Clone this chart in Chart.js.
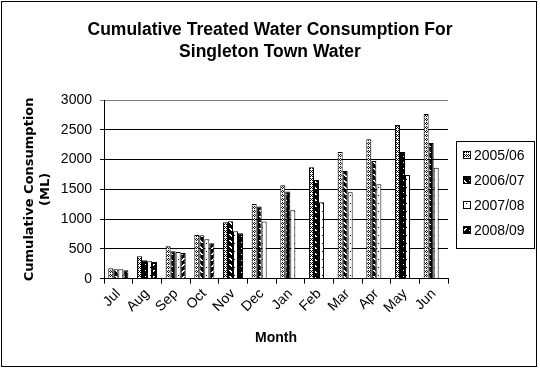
<!DOCTYPE html>
<html>
<head>
<meta charset="utf-8">
<script src="https://cdn.jsdelivr.net/npm/chart.js@4/dist/chart.umd.min.js"></script>
<style>
  body { margin: 0; background: #fff; }
</style>
</head>
<body>
<canvas id="c" width="540" height="369"></canvas>
<script>
const months = ["Jul", "Aug", "Sep", "Oct", "Nov", "Dec", "Jan", "Feb", "Mar", "Apr", "May", "Jun"];
const seriesLabels = ["2005/06", "2006/07", "2007/08", "2008/09"];
const y2005 = [175, 376, 544, 733, 946, 1253, 1567, 1869, 2126, 2339, 2579, 2763];
const y2006 = [158, 309, 460, 730, 963, 1214, 1466, 1656, 1807, 1975, 2126, 2277];
const y2007 = [158, 292, 448, 661, 795, 960, 1148, 1282, 1450, 1584, 1740, 1862];
const y2008 = [141, 280, 431, 594, 762, null, null, null, null, null, null, null];
const titleLines = ["Cumulative Treated Water Consumption For", "Singleton Town Water"];

const FONT = "Arial, 'Liberation Sans', sans-serif";
const WIDE = "'DejaVu Sans', Verdana, sans-serif";

// small bitmap patterns like the excel fills
function makePattern(rows) {
  const c = document.createElement("canvas");
  c.width = rows[0].length;
  c.height = rows.length;
  const g = c.getContext("2d");
  rows.forEach((r, y) => {
    for (let x = 0; x < r.length; x++) {
      g.fillStyle = r[x] === "#" ? "#000" : "#fff";
      g.fillRect(x, y, 1, 1);
    }
  });
  return g.createPattern(c, "repeat");
}

const fills = [
  makePattern(["#.#.", "....", "#.#.", ".#.#"]),
  makePattern(["#..###", "##..##", "###..#", "######", "######", "######"]),
  makePattern(["....", "....", "....", "..#.", "....", "....", "....", "...."]),
  makePattern(["###..#", "##..##", "#..###", "######", "######", "######"])
];

const chartFrame = {
  id: "chartFrame",
  beforeDraw(chart) {
    const ctx = chart.ctx;
    ctx.save();
    ctx.fillStyle = "#fff";
    ctx.fillRect(0, 0, chart.width, chart.height);
    ctx.restore();
  },
  afterDraw(chart) {
    const ctx = chart.ctx;
    ctx.save();
    ctx.strokeStyle = "#000";
    ctx.lineWidth = 1;
    ctx.strokeRect(1.5, 1.5, 535, 365);

    // title, centred on the whole picture
    ctx.fillStyle = "#000";
    ctx.font = "bold 17.5px " + FONT;
    ctx.textAlign = "center";
    ctx.textBaseline = "middle";
    titleLines.forEach((t, i) => ctx.fillText(t, 270, 30 + i * 22));

    // legend box
    ctx.textAlign = "left";
    ctx.strokeRect(456.5, 141.5, 78, 107);
    ctx.font = "14px " + FONT;
    chart.data.datasets.forEach((ds, i) => {
      const y = 155 + i * 25;
      ctx.fillStyle = ds.backgroundColor;
      ctx.fillRect(463, y - 4, 8, 8);
      ctx.strokeRect(463.5, y - 3.5, 7, 7);
      ctx.fillStyle = "#000";
      ctx.fillText(ds.label, 474, y + 1);
    });
    ctx.restore();
  }
};

new Chart(document.getElementById("c"), {
  type: "bar",
  data: {
    labels: months,
    datasets: [y2005, y2006, y2007, y2008].map((vals, i) => ({
      label: seriesLabels[i],
      data: vals,
      backgroundColor: fills[i],
      borderColor: "#000",
      borderWidth: 1,
      borderSkipped: "bottom",
      categoryPercentage: 0.7,
      barPercentage: 1
    }))
  },
  options: {
    responsive: false,
    animation: false,
    layout: { padding: { left: 0, top: 100, right: 92, bottom: 0 } },
    plugins: {
      legend: { display: false },
      tooltip: { enabled: false },
      title: { display: false }
    },
    scales: {
      x: {
        afterFit(scale) { scale.height = 90.3; },
        grid: { drawOnChartArea: false, drawTicks: true, tickLength: 5, color: "#000", offset: true },
        border: { color: "#000" },
        ticks: {
          color: "#000",
          font: { family: FONT, size: 14 },
          maxRotation: 45,
          minRotation: 45,
          padding: 2
        },
        title: {
          display: true,
          text: "Month",
          color: "#000",
          font: { family: FONT, size: 14, weight: "bold", lineHeight: 1.2 },
          padding: { top: 0, bottom: 22 }
        }
      },
      y: {
        min: 0,
        max: 3000,
        afterFit(scale) { scale.width = 104; },
        grid: {
          color: (c) => (c.tick && c.tick.value === 3000 ? "#808080" : "#000"),
          tickLength: 4
        },
        border: { color: "#000" },
        ticks: {
          stepSize: 500,
          color: "#000",
          font: { family: FONT, size: 14 },
          padding: 8,
          callback: (v) => String(v)
        },
        title: {
          display: true,
          text: ["Cumulative Consumption", "(ML)"],
          color: "#000",
          font: { family: WIDE, size: 13, weight: "bold", lineHeight: 1.2 },
          padding: { top: 22 }
        }
      }
    }
  },
  plugins: [chartFrame]
});
</script>
</body>
</html>
